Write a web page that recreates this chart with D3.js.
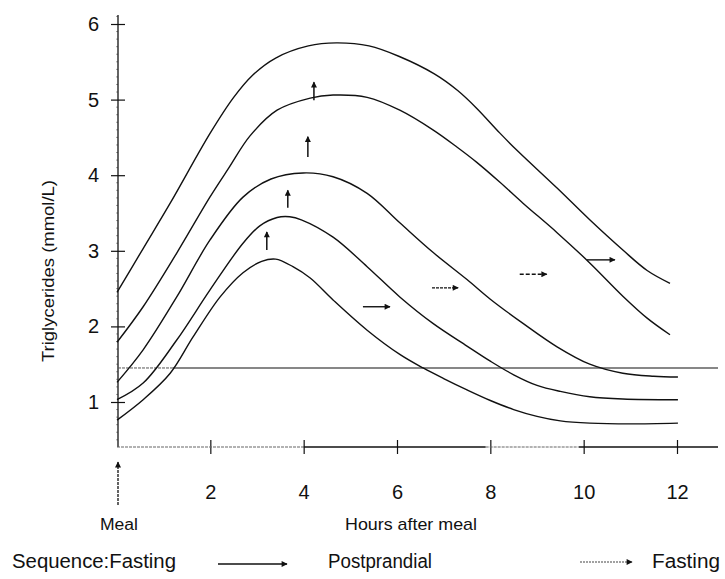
<!DOCTYPE html>
<html><head><meta charset="utf-8">
<script src="https://cdn.jsdelivr.net/npm/d3@7"></script>
<style>
body{margin:0;background:#fff}
svg{display:block}
text{font-family:"Liberation Sans",Arial,Helvetica,sans-serif;fill:#111}
</style>
</head><body>
<svg id="chart" width="725" height="579"></svg>
<script>
// ---- data (hours after meal, triglycerides mmol/L) ----
const xTickValues = [2, 4, 6, 8, 10, 12];
const yTickValues = [1, 2, 3, 4, 5, 6];
const fastingLine = 1.45;

const curve1 = [[0,0.76],[0.56,1.03],[1.14,1.38],[1.63,1.86],[2.21,2.39],[2.7,2.71],[3.1,2.86],[3.4,2.89],[3.77,2.79],[4.14,2.64],[4.63,2.35],[5.36,1.95],[6.06,1.63],[6.56,1.45],[7.0,1.31],[7.5,1.16],[8.0,1.02],[8.5,0.90],[9.0,0.81],[9.5,0.75],[10.13,0.72],[11,0.71],[12.02,0.72]];
const curve2 = [[0,1.03],[0.56,1.25],[1.28,1.82],[1.99,2.48],[2.7,3.1],[3.06,3.33],[3.43,3.44],[3.7,3.45],[3.95,3.41],[4.63,3.18],[5.36,2.79],[6.06,2.39],[6.77,2.04],[7.5,1.74],[8.0,1.54],[8.5,1.36],[9.0,1.22],[9.5,1.14],[10.13,1.07],[10.84,1.04],[12.02,1.03]];
const curve3 = [[0,1.26],[0.56,1.69],[1.28,2.39],[1.99,3.14],[2.7,3.71],[3.3,3.95],[3.99,4.03],[4.63,3.98],[5.36,3.76],[6.06,3.37],[6.77,2.98],[7.5,2.62],[8.0,2.36],[8.7,2.04],[9.43,1.73],[10.13,1.50],[10.84,1.38],[11.5,1.34],[12.02,1.33]];
const curve4 = [[0,1.79],[0.56,2.26],[1.28,2.97],[1.99,3.71],[2.4,4.1],[2.85,4.52],[3.43,4.86],[4.14,5.02],[4.63,5.06],[5.36,5.03],[6.06,4.86],[6.77,4.6],[7.29,4.37],[7.71,4.17],[8.2,3.91],[8.7,3.63],[9.43,3.24],[10.13,2.84],[10.84,2.40],[11.36,2.11],[11.85,1.89]];
const curve5 = [[0,2.45],[0.56,3.03],[1.14,3.63],[2.0,4.56],[2.5,5.03],[2.9,5.32],[3.4,5.55],[4.1,5.71],[4.7,5.75],[5.4,5.71],[6.05,5.57],[6.8,5.34],[7.3,5.12],[7.7,4.89],[8.2,4.56],[8.57,4.33],[9.43,3.83],[10.13,3.41],[10.84,3.01],[11.36,2.74],[11.85,2.57]];
const curves = [curve1, curve2, curve3, curve4, curve5];

// rise markers: [hour, from, to]
const upArrows = [[3.21,3.01,3.25],[3.66,3.57,3.80],[4.09,4.24,4.51],[4.22,4.99,5.23]];
// return-to-fasting markers: [fromHour, toHour, level]
const rightArrows = [[5.27,5.85,2.26],[6.75,7.31,2.51],[8.63,9.21,2.69],[10.07,10.67,2.88]];

const yTitle = "Triglycerides (mmol/L)";
const xTitle = "Hours after meal";
const mealLabel = "Meal";
const sequenceLabels = ["Sequence:Fasting", "Postprandial", "Fasting"];

// ---- drawing ----
const svg = d3.select("#chart");
const x = d3.scaleLinear().domain([0, 12]).range([117, 677]);
const y = d3.scaleLinear().domain([1, 6]).range([402, 24]);
const axisY = 447, axisX = 118, rightEnd = 718, topEnd = 15;
const ink = "#111";

const defs = svg.append("defs");
defs.append("marker").attr("id","head").attr("viewBox","0 0 10 10")
  .attr("refX",9).attr("refY",5).attr("markerWidth",7).attr("markerHeight",6)
  .attr("markerUnits","userSpaceOnUse").attr("orient","auto")
  .append("path").attr("d","M0,0L10,5L0,10Z").attr("fill",ink);

// y axis
const yAxis = d3.axisLeft(y).tickValues(yTickValues).tickFormat(d3.format("d"))
  .tickSizeInner(7).tickSizeOuter(0).tickPadding(12);
const gy = svg.append("g").attr("transform",`translate(${axisX},0)`).call(yAxis);
gy.select(".domain").remove();
gy.selectAll(".tick line").attr("x1",-7).attr("x2",7).attr("stroke",ink).attr("stroke-width",1.2);
gy.selectAll(".tick text").attr("font-size",20).attr("fill",ink)
  .attr("font-family","'Liberation Sans',Arial,sans-serif");
// minor ticks
const minor = d3.range(0.5, 6.11, 0.1).filter(v => Math.abs(v - Math.round(v)) > 0.01);
svg.append("g").selectAll("line").data(minor).join("line")
  .attr("x1",axisX-2).attr("x2",axisX).attr("y1",d=>y(d)).attr("y2",d=>y(d))
  .attr("stroke","#888").attr("stroke-width",0.8);
svg.append("line").attr("x1",axisX).attr("x2",axisX).attr("y1",topEnd).attr("y2",axisY)
  .attr("stroke",ink).attr("stroke-width",1.3);

// x axis
const xAxis = d3.axisBottom(x).tickValues(xTickValues).tickFormat(d3.format("d"))
  .tickSizeInner(7).tickSizeOuter(0).tickPadding(31);
const gx = svg.append("g").attr("transform",`translate(0,${axisY})`).call(xAxis);
gx.select(".domain").remove();
gx.selectAll(".tick line").attr("y1",-7).attr("y2",7).attr("stroke",ink).attr("stroke-width",1.2);
gx.selectAll(".tick text").attr("font-size",20).attr("fill",ink)
  .attr("font-family","'Liberation Sans',Arial,sans-serif");
const xSegs = [[x(0), x(4), true],[x(4), x(7.9), false],[x(7.9), x(9.9), true],[x(9.9), rightEnd, false]];
svg.append("g").selectAll("line").data(xSegs).join("line")
  .attr("x1",d=>d[0]).attr("x2",d=>d[1]).attr("y1",axisY).attr("y2",axisY)
  .attr("stroke",d=>d[2]?"#666":ink).attr("stroke-width",d=>d[2]?1.1:1.3)
  .attr("stroke-dasharray",d=>d[2]?"3,1":null);

// fasting horizontal line
svg.append("line").attr("x1",axisX).attr("x2",x(1.2)).attr("y1",y(fastingLine)).attr("y2",y(fastingLine))
  .attr("stroke","#555").attr("stroke-width",1).attr("stroke-dasharray","3,1");
svg.append("line").attr("x1",x(1.2)).attr("x2",rightEnd).attr("y1",y(fastingLine)).attr("y2",y(fastingLine))
  .attr("stroke",ink).attr("stroke-width",1.2);

// curves
const line = d3.line().x(d=>x(d[0])).y(d=>y(d[1])).curve(d3.curveCatmullRom.alpha(0.5));
svg.append("g").selectAll("path").data(curves).join("path")
  .attr("d",line).attr("fill","none").attr("stroke",ink).attr("stroke-width",1.4);

// up arrows
svg.append("g").selectAll("line").data(upArrows).join("line")
  .attr("x1",d=>x(d[0])).attr("x2",d=>x(d[0])).attr("y1",d=>y(d[1])).attr("y2",d=>y(d[2]))
  .attr("stroke",ink).attr("stroke-width",1.5).attr("marker-end","url(#head)");
// right arrows
const rightDash = [null, "3,1", "4,2", null];
svg.append("g").selectAll("line").data(rightArrows).join("line")
  .attr("x1",d=>x(d[0])).attr("x2",d=>x(d[1])).attr("y1",d=>y(d[2])).attr("y2",d=>y(d[2]))
  .attr("stroke",ink).attr("stroke-width",1.4).attr("stroke-dasharray",(d,i)=>rightDash[i])
  .attr("marker-end","url(#head)");

// meal arrow
svg.append("line").attr("x1",axisX).attr("x2",axisX).attr("y1",505).attr("y2",462)
  .attr("stroke",ink).attr("stroke-width",1.3).attr("stroke-dasharray","3,1").attr("marker-end","url(#head)");

// titles
svg.append("text").attr("x",119).attr("y",530).attr("text-anchor","middle").attr("font-size",16)
  .attr("textLength",38).attr("lengthAdjust","spacingAndGlyphs").text(mealLabel);
svg.append("text").attr("x",345).attr("y",530).attr("font-size",17)
  .attr("textLength",132).attr("lengthAdjust","spacingAndGlyphs").text(xTitle);
svg.append("text").attr("transform","translate(54,271) rotate(-90)").attr("text-anchor","middle")
  .attr("font-size",17).attr("textLength",182).attr("lengthAdjust","spacingAndGlyphs").text(yTitle);

// sequence legend
svg.append("text").attr("x",12).attr("y",568).attr("font-size",20)
  .attr("textLength",164).attr("lengthAdjust","spacingAndGlyphs").text(sequenceLabels[0]);
svg.append("text").attr("x",328).attr("y",568).attr("font-size",20)
  .attr("textLength",104).attr("lengthAdjust","spacingAndGlyphs").text(sequenceLabels[1]);
svg.append("text").attr("x",652).attr("y",568).attr("font-size",20)
  .attr("textLength",68).attr("lengthAdjust","spacingAndGlyphs").text(sequenceLabels[2]);
svg.append("line").attr("x1",218).attr("x2",287).attr("y1",564).attr("y2",564)
  .attr("stroke",ink).attr("stroke-width",1.3).attr("marker-end","url(#head)");
svg.append("line").attr("x1",580).attr("x2",632).attr("y1",562).attr("y2",562)
  .attr("stroke","#444").attr("stroke-width",1.2).attr("stroke-dasharray","2,1").attr("marker-end","url(#head)");
</script>
</body></html>
